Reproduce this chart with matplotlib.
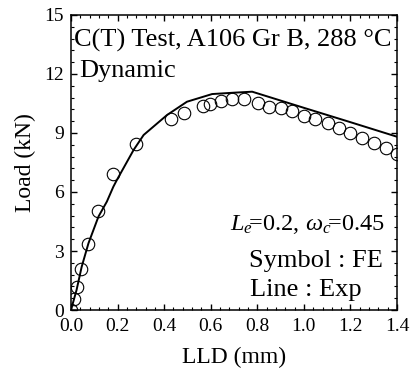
import matplotlib
matplotlib.use("Agg")
import matplotlib.pyplot as plt
from matplotlib.ticker import MultipleLocator

# Experimental (line)
exp_x = [0.0, 0.024, 0.046, 0.075, 0.118, 0.154, 0.182, 0.197, 0.269, 0.312,
         0.412, 0.498, 0.606, 0.700, 0.778, 1.0, 1.2, 1.4]
exp_y = [0.0, 1.02, 2.20, 3.39, 4.75, 5.51, 6.27, 6.61, 8.14, 8.90,
         9.91, 10.59, 10.98, 11.05, 11.10, 10.28, 9.55, 8.81]

# FE (symbols)
fe_x = [0.0, 0.014, 0.024, 0.043, 0.072, 0.115, 0.182, 0.279, 0.430, 0.484,
        0.567, 0.599, 0.645, 0.692, 0.745, 0.803, 0.850, 0.900, 0.951, 1.001,
        1.047, 1.102, 1.152, 1.199, 1.248, 1.300, 1.353, 1.400]
fe_y = [0.0, 0.54, 1.19, 2.08, 3.36, 5.05, 6.91, 8.44, 9.71, 10.00,
        10.39, 10.47, 10.63, 10.71, 10.71, 10.54, 10.34, 10.25, 10.12, 9.88,
        9.71, 9.49, 9.27, 8.98, 8.73, 8.47, 8.22, 7.95]

x_ticks = [0.0, 0.2, 0.4, 0.6, 0.8, 1.0, 1.2, 1.4]
y_ticks = [0, 3, 6, 9, 12, 15]

plt.rcParams['font.family'] = ['Liberation Serif', 'DejaVu Serif']
plt.rcParams['mathtext.fontset'] = 'custom'
plt.rcParams['mathtext.rm'] = 'Liberation Serif'
plt.rcParams['mathtext.it'] = 'Liberation Serif:italic'

fig = plt.figure(figsize=(4.11, 3.71), dpi=100)
ax = fig.add_axes([0.1727, 0.1644, 0.966 - 0.1727, 0.9596 - 0.1644])

ax.plot(exp_x, exp_y, color='black', lw=1.4, zorder=2)
ax.plot(fe_x, fe_y, linestyle='none', marker='o', markersize=9,
        markerfacecolor='none', markeredgecolor='black', markeredgewidth=0.8, zorder=3)

ax.set_xlim(0, 1.4)
ax.set_ylim(0, 15)
ax.set_xticks(x_ticks)
ax.set_xticklabels([f"{v:.1f}" for v in x_ticks])
ax.set_yticks(y_ticks)
ax.set_yticklabels([str(v) for v in y_ticks])
ax.xaxis.set_minor_locator(MultipleLocator(0.04))
ax.yaxis.set_minor_locator(MultipleLocator(0.6))
ax.tick_params(which='both', direction='in', top=True, right=True, labelsize=14)
ax.tick_params(axis='x', which='major', pad=6)
ax.tick_params(axis='y', which='major', pad=5)
ax.tick_params(which='major', length=4.5, width=1.0)
ax.tick_params(which='minor', length=2.5, width=0.8)
for s in ax.spines.values():
    s.set_linewidth(1.1)

ax.set_xlabel("LLD (mm)", fontsize=17, labelpad=8)
ax.set_ylabel("Load (kN)", fontsize=17, labelpad=6)

ax.text(0.013, 13.39, "C(T) Test, A106 Gr B, 288 °C", fontsize=19, ha='left', va='baseline')
ax.text(0.034, 11.85, "Dynamic", fontsize=19, ha='left', va='baseline')
ax.text(1.345, 4.05, r"$L_e\!$=0.2, $\omega_c\!$=0.45", fontsize=17.5, ha='right', va='baseline')
ax.text(0.765, 2.2, "Symbol : FE", fontsize=19, ha='left', va='baseline')
ax.text(0.77, 0.72, "Line : Exp", fontsize=19, ha='left', va='baseline')

fig.savefig("out.png", dpi=100)
